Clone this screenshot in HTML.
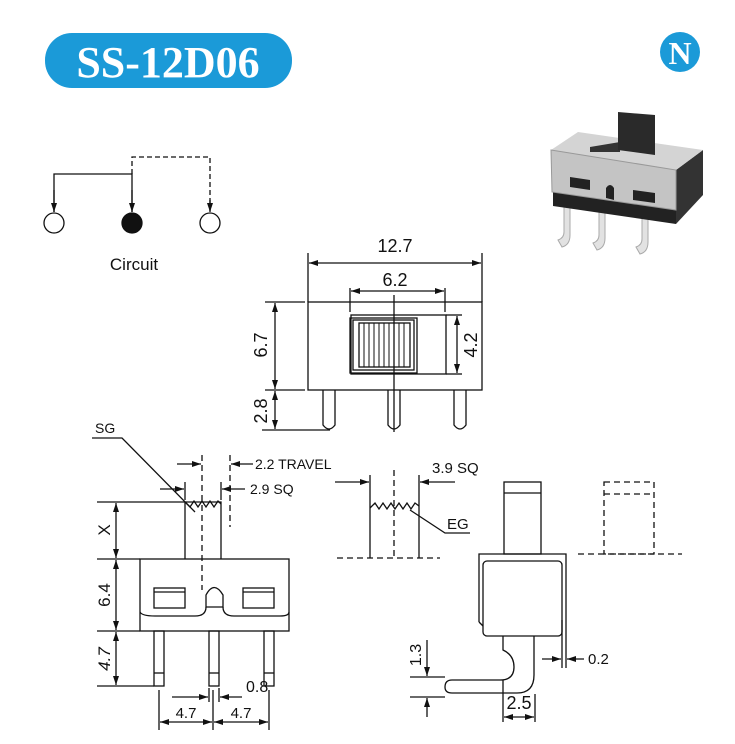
<!DOCTYPE html>
<html><head><meta charset="utf-8"><style>
html,body{margin:0;padding:0;background:#fff;}
svg{display:block;}
text{font-family:"Liberation Sans",Arial,sans-serif;fill:#111;}
</style></head><body>
<svg id="s" width="735" height="744" viewBox="0 0 735 744" xmlns="http://www.w3.org/2000/svg">
<!-- header -->
<rect x="45" y="33" width="247" height="55" rx="27" fill="#1b9ad8"/>
<text x="168" y="77" text-anchor="middle" style="font-family:'Liberation Serif',serif;font-weight:bold;font-size:44px;fill:#fff">SS-12D06</text>
<circle cx="680" cy="52" r="20" fill="#1b9ad8"/>
<text x="680" y="64" text-anchor="middle" style="font-family:'Liberation Serif',serif;font-weight:bold;font-size:32px;fill:#fff">N</text>

<g stroke="#111" stroke-width="1.3" fill="none">
<polyline points="54,212 54,174 132,174 132,212"/>
<line x1="54" y1="190" x2="54" y2="212" class="e"/>
<line x1="132" y1="190" x2="132" y2="212" class="e"/>
<polyline points="132,174 132,157 210,157 210,212" stroke-dasharray="5,3"/>
<line x1="210" y1="200" x2="210" y2="212" class="e" stroke-dasharray="5,3"/>
<circle cx="54" cy="223" r="10" fill="#fff"/>
<circle cx="132" cy="223" r="10" fill="#111"/>
<circle cx="210" cy="223" r="10" fill="#fff"/>
</g>
<text x="134" y="270" text-anchor="middle" font-size="17">Circuit</text>

<!-- product photo -->
<g>
<path d="M570,205 L570,235 Q570,245 562,247 L558,240 Q564,238 564,232 L564,205 Z" fill="#e2e2e2" stroke="#aaa"/>
<path d="M605,208 L605,238 Q605,248 597,250 L593,243 Q599,241 599,235 L599,208 Z" fill="#e2e2e2" stroke="#aaa"/>
<path d="M648,212 L648,242 Q648,252 640,254 L636,247 Q642,245 642,239 L642,212 Z" fill="#e2e2e2" stroke="#aaa"/>
<polygon points="553,192 676,210 676,224 553,206" fill="#222"/>
<polygon points="676,170 703,150 703,195 676,224" fill="#333"/>
<polygon points="551,150 578,132 703,150 676,170" fill="#d4d4d4"/>
<polygon points="551,150 676,170 676,210 552,192" fill="#c4c4c4" stroke="#999"/>
<polygon points="590,147 620,142 620,152 590,152" fill="#333"/>
<polygon points="618,112 655,115 655,155 618,150" fill="#2a2a2a"/>
<polygon points="570,177 590,180 590,190 570,187" fill="#222"/>
<polygon points="633,190 655,193 655,203 633,200" fill="#222"/>
<path d="M606,198 L606,188 Q610,182 614,188 L614,200 Z" fill="#222"/>
</g>

<g stroke="#111" stroke-width="1.3" fill="none">
<!-- top view -->
<rect x="308" y="302" width="174" height="88"/>
<rect x="351" y="315" width="95" height="59"/>
<rect x="350" y="318" width="67" height="55"/>
<rect x="353" y="320" width="61" height="50"/>
<rect x="359" y="323" width="51" height="44"/>
<g stroke-width="1">
<line x1="364" y1="323" x2="364" y2="367"/><line x1="369" y1="323" x2="369" y2="367"/><line x1="374" y1="323" x2="374" y2="367"/><line x1="379" y1="323" x2="379" y2="367"/><line x1="384" y1="323" x2="384" y2="367"/><line x1="389" y1="323" x2="389" y2="367"/><line x1="394" y1="323" x2="394" y2="367"/><line x1="399" y1="323" x2="399" y2="367"/><line x1="404" y1="323" x2="404" y2="367"/>
</g>
<line x1="394" y1="295" x2="394" y2="432"/>
<path d="M323,390 V425 Q329,433 335,425 V390"/>
<path d="M388,390 V425 Q394,433 400,425 V390"/>
<path d="M454,390 V425 Q460,433 466,425 V390"/>
<line x1="308" y1="253" x2="308" y2="302"/><line x1="482" y1="253" x2="482" y2="302"/>
<line x1="309" y1="263" x2="481" y2="263" class="b"/>
<line x1="350" y1="288" x2="350" y2="312"/><line x1="445" y1="288" x2="445" y2="312"/>
<line x1="351" y1="291" x2="444" y2="291" class="b"/>
<line x1="446" y1="315" x2="462" y2="315"/><line x1="446" y1="374" x2="462" y2="374"/>
<line x1="457" y1="316" x2="457" y2="373" class="b"/>
<line x1="265" y1="302" x2="305" y2="302"/><line x1="265" y1="390" x2="305" y2="390"/><line x1="262" y1="430" x2="330" y2="430"/>
<line x1="275" y1="303" x2="275" y2="389" class="b"/>
<line x1="275" y1="391" x2="275" y2="429" class="b"/>

<!-- front view -->
<rect x="140" y="559" width="149" height="72"/>
<polyline points="185,559 185,502 221,502 221,559"/>
<polyline points="185,502 190,507 194,501 198,507 202,501 206,507 210,501 214,507 218,501 221,504"/>
<line x1="202" y1="455" x2="202" y2="590" stroke-dasharray="6,4"/>
<line x1="230" y1="455" x2="230" y2="527" stroke-dasharray="6,4"/>
<rect x="154" y="588" width="31" height="20"/><line x1="154" y1="592" x2="185" y2="592"/>
<rect x="243" y="588" width="31" height="20"/><line x1="243" y1="592" x2="274" y2="592"/>
<path d="M206,607 V595 Q214,580 223,595 V607 Z"/>
<path d="M140,612 Q142,616 155,616 H195 Q206,616 206,607 M223,607 Q223,616 234,616 H280 Q289,616 289,612"/>
<rect x="154" y="631" width="10" height="55"/><line x1="154" y1="673" x2="164" y2="673"/>
<rect x="209" y="631" width="10" height="55"/><line x1="209" y1="673" x2="219" y2="673"/>
<rect x="264" y="631" width="10" height="55"/><line x1="264" y1="673" x2="274" y2="673"/>
<line x1="97" y1="502" x2="185" y2="502"/><line x1="97" y1="559" x2="140" y2="559"/><line x1="97" y1="631" x2="140" y2="631"/><line x1="97" y1="686" x2="154" y2="686"/>
<line x1="116" y1="503" x2="116" y2="558" class="b"/>
<line x1="116" y1="560" x2="116" y2="630" class="b"/>
<line x1="116" y1="632" x2="116" y2="685" class="b"/>
<line x1="159" y1="690" x2="159" y2="730"/><line x1="213" y1="690" x2="213" y2="730"/><line x1="269" y1="690" x2="269" y2="730"/>
<line x1="209" y1="688" x2="209" y2="702"/><line x1="219" y1="688" x2="219" y2="702"/>
<line x1="160" y1="722" x2="212" y2="722" class="b"/>
<line x1="214" y1="722" x2="268" y2="722" class="b"/>
<line x1="172" y1="697" x2="208" y2="697" class="e"/>
<line x1="242" y1="697" x2="220" y2="697" class="e"/>
<polyline points="92,438 122,438 195,512"/>
<line x1="177" y1="464" x2="201" y2="464" class="e"/>
<line x1="253" y1="464" x2="231" y2="464" class="e"/>
<line x1="160" y1="489" x2="184" y2="489" class="e"/>
<line x1="245" y1="489" x2="222" y2="489" class="e"/>
<line x1="185" y1="482" x2="185" y2="500"/><line x1="221" y1="482" x2="221" y2="500"/>

<!-- middle side view -->
<line x1="370" y1="475" x2="370" y2="558"/><line x1="419" y1="475" x2="419" y2="558"/>
<line x1="394" y1="470" x2="394" y2="558" stroke-dasharray="6,4"/>
<line x1="337" y1="558" x2="440" y2="558" stroke-dasharray="6,4"/>
<polyline points="370,508 375,503 379,509 383,503 387,509 391,503 395,509 399,503 403,509 407,503 411,509 415,503 419,506"/>
<polyline points="410,510 445,533 470,533"/>
<line x1="455" y1="482" x2="420" y2="482" class="e"/>
<line x1="335" y1="482" x2="369" y2="482" class="e"/>

<!-- right side view -->
<rect x="504" y="482" width="37" height="72"/><line x1="504" y1="493" x2="541" y2="493"/>
<polyline points="479,622 479,554 566,554 566,620"/>
<rect x="483" y="561" width="79" height="75" rx="4"/>
<line x1="479" y1="622" x2="483" y2="626"/>
<path d="M503,636 V650 Q514,655 514,667 Q514,680 500,680 H452 Q445,680 445,687 Q445,693 452,693 H517 Q534,693 534,675 V636"/>
<line x1="562" y1="620" x2="562" y2="668"/><line x1="566" y1="620" x2="566" y2="668"/>
<rect x="604" y="482" width="50" height="72" stroke-dasharray="6,4"/>
<line x1="604" y1="494" x2="654" y2="494" stroke-dasharray="6,4"/>
<line x1="578" y1="554" x2="682" y2="554" stroke-dasharray="6,4"/>
<line x1="410" y1="677" x2="445" y2="677"/><line x1="410" y1="697" x2="445" y2="697"/>
<line x1="427" y1="640" x2="427" y2="676" class="e"/>
<line x1="427" y1="717" x2="427" y2="698" class="e"/>
<line x1="503" y1="680" x2="503" y2="722"/><line x1="535" y1="694" x2="535" y2="722"/>
<line x1="504" y1="717" x2="534" y2="717" class="b"/>
<line x1="542" y1="659" x2="561" y2="659" class="e"/>
<line x1="584" y1="659" x2="567" y2="659" class="e"/>
</g>
<g id="arr" fill="#111"></g>

<!-- labels -->
<g font-size="18">
<text x="395" y="252" text-anchor="middle">12.7</text>
<text x="395" y="286" text-anchor="middle">6.2</text>
<text transform="translate(477,345) rotate(-90)" text-anchor="middle">4.2</text>
<text transform="translate(267,345) rotate(-90)" text-anchor="middle">6.7</text>
<text transform="translate(267,411) rotate(-90)" text-anchor="middle">2.8</text>
</g>
<g font-size="14">
<text x="95" y="433">SG</text>
<text x="255" y="469">2.2 TRAVEL</text>
<text x="250" y="494">2.9 SQ</text>
<text transform="translate(110,530) rotate(-90)" text-anchor="middle" font-size="17">X</text>
<text transform="translate(110,595) rotate(-90)" text-anchor="middle" font-size="17">6.4</text>
<text transform="translate(110,659) rotate(-90)" text-anchor="middle" font-size="17" font-style="italic">4.7</text>
<text x="246" y="692" font-size="16">0.8</text>
<text x="186" y="718" text-anchor="middle" font-size="15">4.7</text>
<text x="241" y="718" text-anchor="middle" font-size="15">4.7</text>
<text x="432" y="473" font-size="15">3.9 SQ</text>
<text x="447" y="529" font-size="15">EG</text>
<text transform="translate(421,655) rotate(-90)" text-anchor="middle" font-size="16">1.3</text>
<text x="519" y="709" text-anchor="middle" font-size="18">2.5</text>
<text x="588" y="664" font-size="15">0.2</text>
</g>
<script>
(function(){
var g=document.getElementById('arr'),NS='http://www.w3.org/2000/svg';
function head(x,y,dx,dy){var L=Math.hypot(dx,dy);dx/=L;dy/=L;var l=9,w=3;
var p=document.createElementNS(NS,'polygon');
p.setAttribute('points',x+','+y+' '+(x-dx*l-dy*w)+','+(y-dy*l+dx*w)+' '+(x-dx*l+dy*w)+','+(y-dy*l-dx*w));g.appendChild(p);}
document.querySelectorAll('line.e,line.b').forEach(function(n){
var x1=+n.getAttribute('x1'),y1=+n.getAttribute('y1'),x2=+n.getAttribute('x2'),y2=+n.getAttribute('y2');
head(x2,y2,x2-x1,y2-y1);
if(n.classList.contains('b'))head(x1,y1,x1-x2,y1-y2);});
})();
</script>
</svg>
</body></html>
